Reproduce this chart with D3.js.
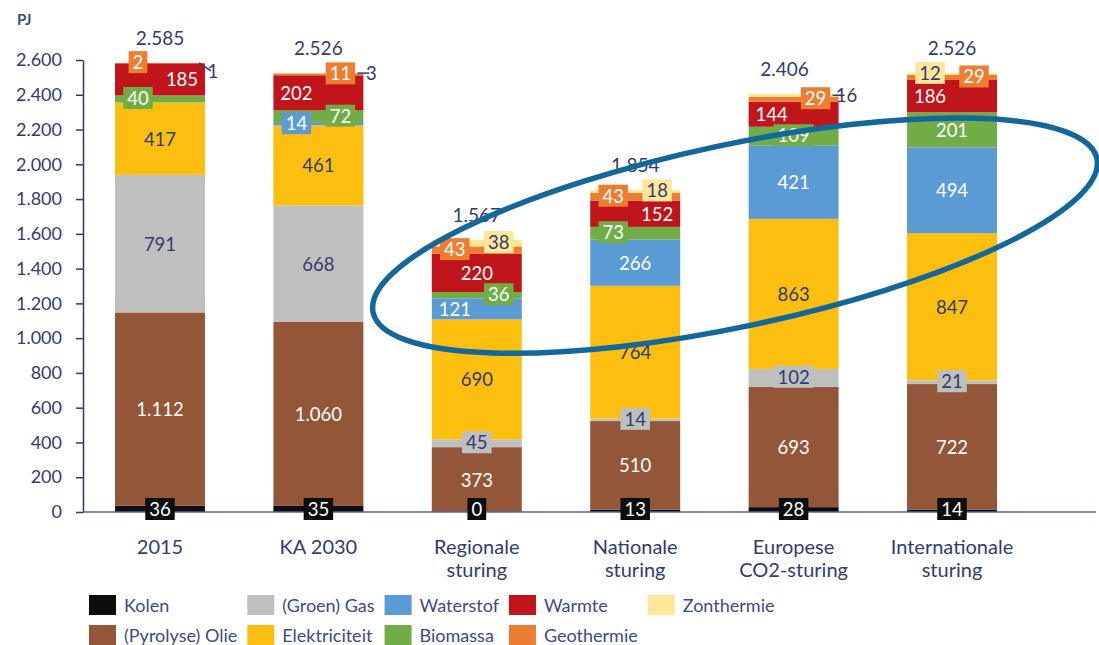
<!DOCTYPE html>
<html>
<head>
<meta charset="UTF-8">
<script src="https://cdn.jsdelivr.net/npm/d3@7"></script>
<style>
	body { margin: 0; background: #fff; }
	text { font-family: Lato, "Open Sans", sans-serif; }
	.tick-label { fill: #2f3c70; font-size: 18px; }
	.cat-label { fill: #2f3c70; font-size: 20px; text-anchor: middle; }
	.val-label { font-size: 18.5px; text-anchor: middle; dominant-baseline: central; }
	.total-label { fill: #2f3c70; font-size: 19px; text-anchor: middle; }
	.legend-label { fill: #3c4a88; font-size: 18px; dominant-baseline: central; }
	.unit { fill: #3c4a88; font-size: 15px; font-weight: bold; }
</style>
</head>
<body>
<svg id="chart" width="1099" height="645"></svg>
<script>
// categories (x axis), each label split into lines
var categories = ["2015", "KA 2030", "Regionale sturing", "Nationale sturing", "Europese CO2-sturing", "Internationale sturing"];
var categoryLines = [["2015"], ["KA 2030"], ["Regionale", "sturing"], ["Nationale", "sturing"], ["Europese", "CO2-sturing"], ["Internationale", "sturing"]];

// series, bottom to top of the stack
var seriesNames = ["Kolen", "(Pyrolyse) Olie", "(Groen) Gas", "Elektriciteit", "Waterstof", "Biomassa", "Warmte", "Geothermie", "Zonthermie"];
var kolen         = [36, 35, 0, 13, 28, 14];
var olie          = [1112, 1060, 373, 510, 693, 722];
var gas           = [791, 668, 45, 14, 102, 21];
var elektriciteit = [417, 461, 690, 764, 863, 847];
var waterstof     = [0, 14, 121, 266, 421, 494];
var biomassa      = [40, 72, 36, 73, 109, 201];
var warmte        = [185, 202, 220, 152, 144, 186];
var geothermie    = [2, 11, 43, 43, 29, 29];
var zonthermie    = [1, 3, 38, 18, 16, 12];
var seriesValues = [kolen, olie, gas, elektriciteit, waterstof, biomassa, warmte, geothermie, zonthermie];

var totals = [2585, 2526, 1567, 1854, 2406, 2526];
var yTicks = [0, 200, 400, 600, 800, 1000, 1200, 1400, 1600, 1800, 2000, 2200, 2400, 2600];

// styling
var colors = ["#0d0d0d", "#945639", "#bfbfbf", "#fdbf0f", "#5b9bd5", "#70ad47", "#c0161b", "#ed7d31", "#ffe699"];
var darkText = ["(Groen) Gas", "Elektriciteit", "Zonthermie"];
// label placement per series: mid / L / R (plain), box / boxL / boxR, lead (line + text)
var placement = [
	["box", "box", "box", "box", "box", "box"],
	["mid", "mid", "mid", "mid", "mid", "mid"],
	["mid", "mid", "box", "box", "box", "box"],
	["mid", "mid", "mid", "mid", "mid", "mid"],
	[null, "boxL", "L", "mid", "mid", "mid"],
	["boxL", "boxR", "boxR", "boxL", "box", "mid"],
	["R", "L", "mid", "R", "L", "L"],
	["boxL", "boxR", "boxL", "boxL", "boxR", "boxR"],
	["lead", "lead", "boxR", "boxR", "lead", "boxL"]
];
var leaderDrop = [8, 0, 0, 0, 0, 0];
var totalShift = [0, 0, 0, 0, -9, 0];
var navy = "#2f3c70";

var loc = d3.formatLocale({decimal: ",", thousands: ".", grouping: [3], currency: ["", ""]});
var fmt = loc.format(",d");

var svg = d3.select("#chart");

var y = d3.scaleLinear().domain([0, 2600]).range([512, 60]);
var x = d3.scaleBand().domain(categories).range([83, 1029]).paddingInner(0.432).paddingOuter(0.202);
var bw = x.bandwidth();

var rows = categories.map(function(c, i) {
	var r = {category: c};
	seriesNames.forEach(function(s, j) { r[s] = seriesValues[j][i]; });
	return r;
});
var stacked = d3.stack().keys(seriesNames)(rows);

// Draw bars
var layers = svg.append("g").selectAll("g")
	.data(stacked).enter()
	.append("g")
	.attr("fill", function(d, j) { return colors[j]; });

layers.selectAll("rect")
	.data(function(d) { return d; }).enter()
	.append("rect")
	.attr("x", function(d) { return x(d.data.category); })
	.attr("y", function(d) { return y(d[1]); })
	.attr("width", bw)
	.attr("height", function(d) { return y(d[0]) - y(d[1]); });

// Axes
var yAxis = d3.axisLeft(y).tickValues(yTicks).tickSize(7).tickSizeOuter(0).tickFormat(fmt);
var gy = svg.append("g").attr("transform", "translate(83,0)").call(yAxis);
gy.select(".domain").attr("stroke", "#2b3a6b").attr("stroke-width", 1.5);
gy.selectAll(".tick line").attr("stroke", "#2b3a6b").attr("stroke-width", 1.5);
gy.selectAll(".tick text").attr("class", "tick-label").attr("x", -21).attr("font-family", null).attr("font-size", null).attr("fill", null);

svg.append("line")
	.attr("x1", 83).attr("x2", 1096)
	.attr("y1", y(0)).attr("y2", y(0))
	.attr("stroke", "#4a64a6").attr("stroke-width", 1.5);

svg.append("text").attr("class", "unit").attr("x", 17).attr("y", 25).text("PJ");

// Category labels
var cats = svg.append("g").selectAll("text")
	.data(categories).enter()
	.append("text")
	.attr("class", "cat-label")
	.attr("x", function(d) { return x(d) + bw / 2; })
	.attr("y", 554);
cats.selectAll("tspan")
	.data(function(d, i) { return categoryLines[i]; }).enter()
	.append("tspan")
	.attr("x", function() { return this.parentNode.getAttribute("x"); })
	.attr("dy", function(d, k) { return k === 0 ? 0 : 23; })
	.text(function(d) { return d; });

// Value labels
var labels = svg.append("g");
stacked.forEach(function(layer, j) {
	layer.forEach(function(d, i) {
		var mode = placement[j][i];
		if (!mode) return;
		var v = d.data[layer.key];
		var cx = x(d.data.category) + bw / 2;
		var cy = (y(d[0]) + y(d[1])) / 2;
		if (j === 0) cy = y(0) - 2;
		var dark = darkText.indexOf(layer.key) >= 0;
		if (mode === "lead") {
			var right = x(d.data.category) + bw;
			var drop = leaderDrop[i];
			labels.append("line")
				.attr("x1", right - 6).attr("y1", cy)
				.attr("x2", right + 6).attr("y2", cy + drop)
				.attr("stroke", navy).attr("stroke-width", 1.5);
			labels.append("text").attr("class", "val-label")
				.attr("text-anchor", "start")
				.attr("x", right + 8).attr("y", cy + drop)
				.attr("fill", navy)
				.text(fmt(v));
			return;
		}
		if (mode.indexOf("L") >= 0) cx -= 22;
		if (mode.indexOf("R") >= 0) cx += 22;
		var isBox = mode.indexOf("box") === 0;
		if (isBox) cy -= 1;
		var t = labels.append("text").attr("class", "val-label")
			.attr("x", cx).attr("y", cy)
			.attr("fill", dark ? navy : "#fff")
			.text(fmt(v));
		if (isBox) {
			var w = t.node().getComputedTextLength() + 8;
			labels.insert("rect", function() { return t.node(); })
				.attr("x", cx - w / 2).attr("y", cy - 11)
				.attr("width", w).attr("height", 22)
				.attr("fill", colors[j]);
		}
	});
});

// Totals
svg.append("g").selectAll("text")
	.data(totals).enter()
	.append("text")
	.attr("class", "total-label")
	.attr("x", function(d, i) { return x(categories[i]) + bw / 2 + totalShift[i]; })
	.attr("y", function(d) { return y(d) - 18; })
	.text(function(d) { return fmt(d); });

// Highlight ellipse round the scenario tops
var ecx = x("Nationale sturing") + bw / 2 + 0.63 * x.step();
var ecy = y(1590);
svg.append("ellipse")
	.attr("cx", ecx).attr("cy", ecy)
	.attr("rx", 370).attr("ry", 91)
	.attr("transform", "rotate(-12," + ecx + "," + ecy + ")")
	.attr("fill", "none")
	.attr("stroke", "#13689b")
	.attr("stroke-width", 5.5);

// Legend: 5 columns, 2 rows
var legend = svg.append("g");
var colX = 89;
for (var c = 0; c < 5; c++) {
	var maxW = 0;
	for (var r = 0; r < 2; r++) {
		var k = c * 2 + r;
		if (k >= seriesNames.length) continue;
		var ly = 605 + r * 30;
		legend.append("rect")
			.attr("x", colX).attr("y", ly - 10)
			.attr("width", 27).attr("height", 20)
			.attr("fill", colors[k]);
		var lt = legend.append("text").attr("class", "legend-label")
			.attr("x", colX + 35).attr("y", ly)
			.text(seriesNames[k]);
		maxW = Math.max(maxW, lt.node().getComputedTextLength());
	}
	colX += 35 + maxW + 10;
}
</script>
</body>
</html>
